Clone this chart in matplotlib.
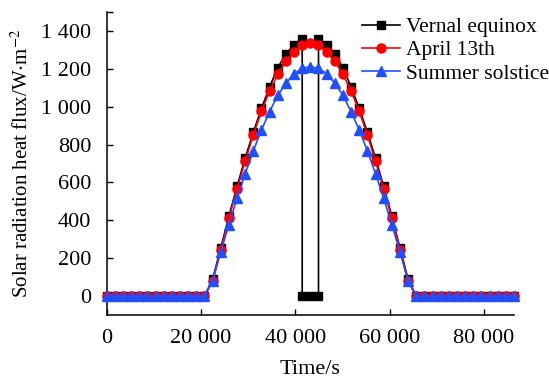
import matplotlib
matplotlib.use('Agg')
import matplotlib.pyplot as plt
from matplotlib.ticker import FuncFormatter

plt.rcParams['font.family'] = ['Liberation Serif', 'DejaVu Serif']
plt.rcParams['mathtext.fontset'] = 'stix'

# time grid, s (51 samples over one day)
time_s = [0, 1728, 3456, 5184, 6912, 8640, 10368, 12096, 13824, 15552,
          17280, 19008, 20736, 22464, 24192, 25920, 27648, 29376, 31104, 32832,
          34560, 36288, 38016, 39744, 41472, 43200, 44928, 46656, 48384, 50112,
          51840, 53568, 55296, 57024, 58752, 60480, 62208, 63936, 65664, 67392,
          69120, 70848, 72576, 74304, 76032, 77760, 79488, 81216, 82944, 84672,
          86400]

# vernal equinox has a drop to zero around noon (duplicated time stamps)
vernal_time = time_s[:25] + [41472, 43200, 44928, 44928] + time_s[27:]
vernal_flux = [0] * 13 + [88, 254, 421, 579, 728, 865, 991, 1105, 1205, 1280,
                          1325, 1359] + [0, 0, 0] + \
              [1359, 1325, 1280, 1205, 1105, 991, 865, 728, 579, 421, 254, 88] + [0] * 13

april_flux = [0] * 13 + [80, 245, 410, 566, 713, 850, 975, 1083, 1171, 1240,
                         1289, 1325, 1335, 1325, 1289, 1240, 1171, 1083, 975,
                         850, 713, 566, 410, 245, 80] + [0] * 13

summer_flux = [0] * 13 + [79, 233, 377, 517, 646, 767, 877, 974, 1060, 1123,
                          1175, 1202, 1211, 1202, 1175, 1123, 1060, 974, 877,
                          767, 646, 517, 377, 233, 79] + [0] * 13

y_ticks = [0, 200, 400, 600, 800, 1000, 1200, 1400]
x_ticks = [0, 20000, 40000, 60000, 80000]


def thousands(val, pos):
    # space as thousands separator, e.g. "1 400"
    return '{:,}'.format(int(val)).replace(',', ' ')


fig = plt.figure(figsize=(5.49, 3.78), dpi=100)
ax = fig.add_axes([106.7 / 549, 1 - 315 / 378, (514 - 106.7) / 549, (315 - 12) / 378])

ax.plot(vernal_time, vernal_flux, color='black', marker='s', markersize=6,
        linewidth=1.2, label='Vernal equinox', clip_on=False, zorder=3)
ax.plot(time_s, april_flux, color='#ff0000', marker='o', markersize=6.5,
        linewidth=1.2, label='April 13th', clip_on=False, zorder=4)
ax.plot(time_s, summer_flux, color='#1f4fff', marker='^', markersize=7,
        linewidth=1.2, label='Summer solstice', clip_on=False, zorder=5)

ax.set_xlim(0, 86400)
ax.set_ylim(-100, 1500)
ax.set_xticks(x_ticks)
ax.set_yticks(y_ticks + [1500])
ax.xaxis.set_major_formatter(FuncFormatter(thousands))
ax.yaxis.set_major_formatter(FuncFormatter(lambda v, p: '' if v > 1400 else thousands(v, p)))
ax.tick_params(direction='in', length=4, width=1, labelsize=16)
ax.tick_params(axis='x', pad=10)
ax.tick_params(axis='y', pad=11)

ax.spines['top'].set_visible(False)
ax.spines['right'].set_visible(False)
for sp in ('left', 'bottom'):
    ax.spines[sp].set_linewidth(1.1)

ax.set_xlabel('Time/s', fontsize=16, labelpad=9)
ax.set_ylabel(r'Solar radiation heat flux/W$\cdot$m$^{-2}$', fontsize=15, labelpad=6)

ax.legend(loc='upper left', bbox_to_anchor=(362 / 549, 1 - 17 / 378),
          bbox_transform=fig.transFigure, frameon=False, fontsize=15.5,
          handlelength=1.75, handletextpad=0.3, labelspacing=0.15,
          borderpad=0, borderaxespad=0)

fig.savefig('out.png', dpi=100)
